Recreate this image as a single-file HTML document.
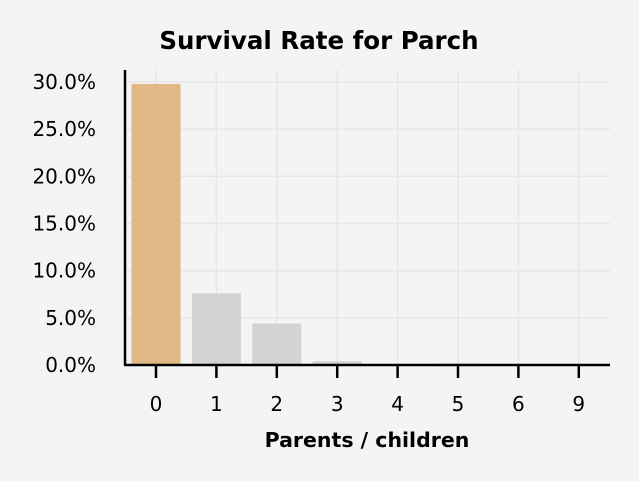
<!DOCTYPE html>
<html><head><meta charset="utf-8"><style>
body{margin:0;background:#f4f4f4;}
svg{display:block;font-family:"DejaVu Sans","Liberation Sans",sans-serif;}
</style></head><body>
<svg id="c" width="639" height="481" viewBox="0 0 639 481">
<rect width="639" height="481" fill="#f4f4f4"/>
<text x="319" y="49" text-anchor="middle" font-size="24.5" font-weight="bold" fill="#000">Survival Rate for Parch</text>
<text x="367" y="447" text-anchor="middle" font-size="20.5" font-weight="bold" fill="#000">Parents / children</text>
<g id="grid"></g><g id="bars"></g><g id="axes"></g>
</svg>
<script>
const categories=["0","1","2","3","4","5","6","9"];
const rates=[29.8,7.6,4.4,0.4,0,0.15,0,0];
const yTicks=[0,5,10,15,20,25,30];
const ns="http://www.w3.org/2000/svg";
const x0=125,x1=610,yB=365,yT=70,step=60.4,firstX=156,bw=49;
const xs=i=>firstX+i*step;
const ys=v=>yB-v*(365-82)/30;
function mk(t,a,p){const e=document.createElementNS(ns,t);for(const k in a)e.setAttribute(k,a[k]);p.appendChild(e);return e;}
const g=document.getElementById('grid'),b=document.getElementById('bars'),ax=document.getElementById('axes');
yTicks.forEach(v=>{
 const l=mk('line',{x1:x0,x2:x1,y1:ys(v),y2:ys(v),stroke:'#e6e6e6','stroke-width':1.5},g);
 
 
 const t=mk('text',{x:96,y:ys(v)+7,'text-anchor':'end','font-size':20,fill:'#000'},ax);
 t.textContent=v.toFixed(1)+'%';
 
 
});
categories.forEach((c,i)=>{
 const l=mk('line',{x1:xs(i),x2:xs(i),y1:yT,y2:yB,stroke:'#e6e6e6','stroke-width':1.5},g);
 
 
 const r=mk('rect',{x:xs(i)-bw/2,y:ys(rates[i]),width:bw,height:yB-ys(rates[i]),fill:i===0?'#e0b986':'#d3d3d3'},b);
 
 
 const tk=mk('line',{x1:xs(i),x2:xs(i),y1:yB,y2:yB+13,stroke:'#000','stroke-width':2.5},ax);
 
 
 const t=mk('text',{x:xs(i),y:411,'text-anchor':'middle','font-size':20,fill:'#000'},ax);
 t.textContent=c;
 
 
});
const xa=mk('line',{x1:x0-1,x2:x1,y1:yB,y2:yB,stroke:'#000','stroke-width':2.5},ax);


const ya=mk('line',{x1:x0,x2:x0,y1:yT,y2:yB,stroke:'#000','stroke-width':2.5},ax);


</script>
</body></html>
